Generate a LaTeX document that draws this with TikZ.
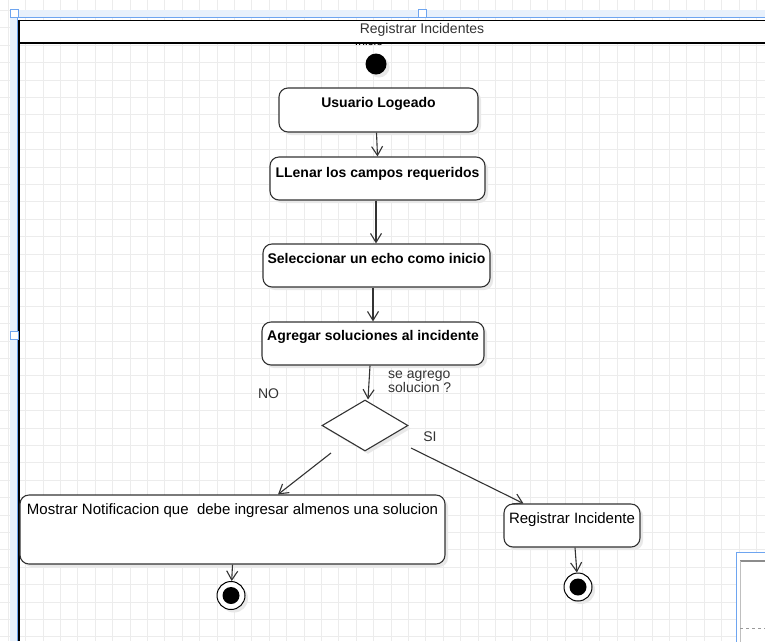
\documentclass[tikz,border=0pt]{standalone}
\usepackage{fontspec}
\setmainfont{Liberation Sans}
\usepackage{tikz}
\usetikzlibrary{positioning, shapes.geometric, arrows.meta, shadows}
\usepackage{xcolor}
\definecolor{selblue}{RGB}{110,165,240}
\definecolor{selband}{RGB}{232,241,252}
\definecolor{linegray}{RGB}{51,51,51}
\definecolor{gridgray}{RGB}{236,236,236}

\begin{document}
\begin{tikzpicture}[x=1pt, y=-1pt,
    sombra/.style={drop shadow={shadow xshift=3pt, shadow yshift=-3pt, fill=black!9, opacity=1}},
    act/.style={draw=linegray, line width=1.1pt, rounded corners=9pt, fill=white, sombra,
        font=\fontsize{14}{16}\selectfont\bfseries, text height=10.5pt, text depth=15.5pt, inner sep=2pt}, % actividades
    dot/.style={circle, fill=black, minimum size=21pt, inner sep=0pt, sombra},
    fin/.style={circle, draw=black, line width=1pt, fill=white, minimum size=28pt, inner sep=0pt, sombra,
        path picture={\fill[black] (path picture bounding box.center) circle (8.5pt);}},
    txt/.style={font=\fontsize{14}{14}\selectfont, inner sep=0pt, text=linegray},
    flow/.style={draw=linegray, line width=1.1pt, -{Straight Barb[length=9pt, width=11pt, line width=1.1pt]}},
    gridline/.style={draw=gridgray, line width=1pt},
    handle/.style={draw=selblue, line width=1pt, fill=white, minimum size=8pt, inner sep=0pt}
    ]
\useasboundingbox (0,0) rectangle (765,641);
\clip (0,0) rectangle (765,641);
\fill[white] (0,0) rectangle (765,641);
\foreach \i in {0,...,44} \draw[gridline] ({8.2+17.4*\i},0) -- ++(0,641);
\foreach \j in {0,...,37} \draw[gridline] (0,{10.5+17.4*\j}) -- ++(765,0);

% seleccion
\fill[selband] (10,10) rectangle (765,17.5);
\fill[selband] (10,10) rectangle (17.5,641);

\node[font=\fontsize{12}{12}\selectfont, anchor=base] (inicio) at (369,45) {Inicio};

% carril
\node[draw=black, line width=1.2pt, fill=white, minimum width=760pt, minimum height=22pt,
    anchor=north west, inner sep=0pt] (lane) at (19,19.5) {};
\node[font=\fontsize{14}{16}\selectfont, text=linegray] (titulo) at (422,30) {Registrar Incidentes};
\draw[line width=2pt] (lane.south west) -- (lane.south east);
\draw[line width=1.3pt] (lane.north west) -- (19,641);
\draw[selblue, line width=0.8pt] (17.6,641) -- (17.6,17.6) -- (765,17.6);
\node[handle] (h1) at (14,13.5) {};
\node[handle] (h2) at (422.5,13.5) {};
\node[handle] (h3) at (14,335.5) {};

\node[dot] (ini) at (376,64) {};
\node[act, minimum width=199pt, minimum height=44pt, text depth=16.5pt] (log) at (378.5,110) {Usuario Logeado};
\node[act, minimum width=215pt, minimum height=43pt, text depth=13.5pt] (lle) at (377.5,178.5) {LLenar los campos requeridos};
\node[act, minimum width=227pt, minimum height=43pt] (sel) at (376.5,265.5) {Seleccionar un echo como inicio};
\node[act, minimum width=222pt, minimum height=43pt, text depth=17.5pt] (agr) at (373,343.5) {Agregar soluciones al incidente};
\node[diamond, draw=linegray, line width=1.1pt, fill=white, minimum width=86pt, minimum height=51pt,
    inner sep=0pt, sombra] (dec) at (365,425.5) {};
\node[txt, anchor=north west, align=left] (preg) at (388,371) {se agrego\\solucion ?};
\node[txt] (no) at (268.5,394) {NO};
\node[txt] (si) at (430,437) {SI};
\node[act, font=\fontsize{15}{17}\selectfont, minimum width=425pt, minimum height=69pt, text depth=41.5pt] (mos)
    at (232.5,529.5) {Mostrar Notificacion que\ \ debe ingresar almenos una solucion};
\node[act, font=\fontsize{15}{17}\selectfont, minimum width=136pt, minimum height=43pt] (reg)
    at (572,525.5) {Registrar Incidente};
\node[fin] (fin1) at (231,595.5) {};
\node[fin] (fin2) at (578,587) {};

\draw[flow] ([xshift=-2pt]log.south) -- (lle.north);
\draw[flow] ([xshift=-1.5pt]lle.south) -- ([xshift=-0.5pt]sel.north);
\draw[flow] ([xshift=-3.5pt]sel.south) -- (agr.north);
\draw[flow] ([xshift=-3pt]agr.south) -- ([xshift=3pt]dec.north);
\draw[flow] ([shift={(-34,27.5)}]dec.center) -- ([xshift=45.5pt]mos.north);
\draw[flow] ([shift={(46,22.5)}]dec.center) -- ([xshift=20pt]reg.north west);
\draw[flow] (mos.south) -- (fin1);
\draw[flow] ([xshift=3pt]reg.south) -- (fin2);

% ventana
\draw[selblue, fill=white, line width=1pt] (736,552) rectangle (770,645);
\draw[black!45, line width=2pt] (740,561) -- (770,561);
\draw[black!25, line width=1pt] (740,561) -- (740,645);
\draw[black!40, dashed, line width=1pt] (740,628) -- (770,628);
\end{tikzpicture}
\end{document}
